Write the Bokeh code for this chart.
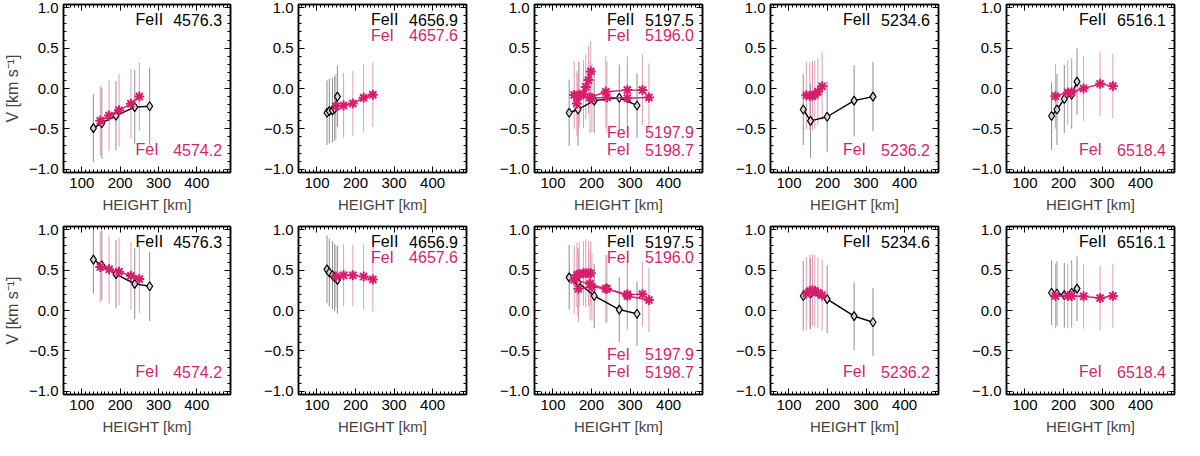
from bokeh.plotting import figure
from bokeh.layouts import gridplot
from bokeh.models import (Range1d, LinearAxis, SingleIntervalTicker, ColumnDataSource,
                          Label, CustomJSTickFormatter)
from bokeh.embed import file_html
from bokeh.resources import INLINE

PINK = "#d61f6c"
FONT = "Liberation Sans"

# ---- data (height in km, velocity in km/s, error) ----
# panel 1: FeII 4576.3 / FeI 4574.2
p1_fe2_h = [130, 152, 189, 238, 277]
p1_fe2_v_top = [-0.49, -0.43, -0.335, -0.23, -0.22]
p1_fe2_e_top = [0.42, 0.44, 0.43, 0.46, 0.48]
p1_fe2_v_bot = [0.63, 0.56, 0.45, 0.33, 0.30]
p1_fe2_e_bot = [0.42, 0.43, 0.42, 0.44, 0.43]
p1_fe1_h = [148, 171, 197, 228, 250]
p1_fe1_v_top = [-0.40, -0.335, -0.27, -0.19, -0.10]
p1_fe1_e_top = [0.43, 0.44, 0.45, 0.43, 0.42]
p1_fe1_v_bot = [0.54, 0.51, 0.48, 0.43, 0.39]
p1_fe1_e_bot = [0.44, 0.42, 0.42, 0.42, 0.42]

# panel 2: FeII 4656.9 / FeI 4657.6
p2_fe2_h = [126, 132, 140, 146, 153]
p2_fe2_v_top = [-0.30, -0.28, -0.27, -0.25, -0.10]
p2_fe2_e_top = [0.40, 0.40, 0.40, 0.40, 0.38]
p2_fe2_v_bot = [0.51, 0.47, 0.44, 0.41, 0.38]
p2_fe2_e_bot = [0.42, 0.42, 0.42, 0.42, 0.42]
p2_fe1_h = [149, 169, 193, 221, 245]
p2_fe1_v_top = [-0.22, -0.21, -0.185, -0.115, -0.077]
p2_fe1_e_top = [0.40, 0.40, 0.40, 0.42, 0.40]
p2_fe1_v_bot = [0.42, 0.435, 0.435, 0.42, 0.385]
p2_fe1_e_bot = [0.38, 0.38, 0.38, 0.40, 0.40]

# panel 3: FeII 5197.5 / FeI 5196.0, 5197.9, 5198.7
p3_fe2_h = [142, 165, 207, 272, 318]
p3_fe2_v_top = [-0.30, -0.26, -0.15, -0.115, -0.21]
p3_fe2_e_top = [0.41, 0.45, 0.40, 0.41, 0.40]
p3_fe2_v_bot = [0.41, 0.35, 0.18, 0.01, -0.04]
p3_fe2_e_bot = [0.40, 0.42, 0.40, 0.40, 0.40]
p3_fe1a_h = [162, 168, 179, 185, 192, 198]
p3_fe1a_v_top = [-0.185, -0.077, -0.07, 0.02, 0.104, 0.21]
p3_fe1a_e_top = [0.40, 0.40, 0.42, 0.40, 0.42, 0.38]
p3_fe1a_v_bot = [0.44, 0.45, 0.46, 0.46, 0.46, 0.46]
p3_fe1a_e_bot = [0.40, 0.40, 0.40, 0.42, 0.40, 0.40]
p3_fe1b_h = [155, 196, 237, 293, 332]
p3_fe1b_v_top = [-0.08, -0.11, -0.04, -0.02, -0.02]
p3_fe1b_e_top = [0.42, 0.44, 0.44, 0.42, 0.44]
p3_fe1b_v_bot = [0.38, 0.33, 0.27, 0.20, 0.20]
p3_fe1b_e_bot = [0.42, 0.44, 0.42, 0.42, 0.40]
p3_fe1c_h = [166, 201, 240, 293, 349]
p3_fe1c_v_top = [-0.10, -0.12, -0.11, -0.12, -0.11]
p3_fe1c_e_top = [0.44, 0.42, 0.44, 0.42, 0.42]
p3_fe1c_v_bot = [0.27, 0.29, 0.27, 0.18, 0.13]
p3_fe1c_e_bot = [0.42, 0.42, 0.42, 0.42, 0.40]

# panel 4: FeII 5234.6 / FeI 5236.2
p4_fe2_h = [137, 156, 199, 269, 318]
p4_fe2_v_top = [-0.26, -0.40, -0.35, -0.15, -0.10]
p4_fe2_e_top = [0.44, 0.46, 0.44, 0.44, 0.43]
p4_fe2_v_bot = [0.18, 0.21, 0.14, -0.07, -0.145]
p4_fe2_e_bot = [0.43, 0.44, 0.42, 0.42, 0.42]
p4_fe1_h = [145, 154, 161, 167, 175, 186]
p4_fe1_v_top = [-0.085, -0.09, -0.09, -0.077, -0.04, 0.027]
p4_fe1_e_top = [0.42, 0.42, 0.43, 0.42, 0.42, 0.42]
p4_fe1_v_bot = [0.21, 0.24, 0.25, 0.24, 0.22, 0.19]
p4_fe1_e_bot = [0.45, 0.45, 0.44, 0.45, 0.44, 0.44]

# panel 5: FeII 6516.1 / FeI 6518.4
p5_fe2_h = [169, 183, 202, 221, 235]
p5_fe2_v_top = [-0.34, -0.26, -0.13, -0.077, 0.085]
p5_fe2_e_top = [0.42, 0.44, 0.42, 0.42, 0.41]
p5_fe2_v_bot = [0.22, 0.21, 0.19, 0.22, 0.27]
p5_fe2_e_bot = [0.40, 0.40, 0.40, 0.40, 0.40]
p5_fe1_h = [179, 211, 221, 252, 295, 328]
p5_fe1_v_top = [-0.096, -0.05, -0.046, 0.0, 0.058, 0.03]
p5_fe1_e_top = [0.40, 0.40, 0.42, 0.40, 0.40, 0.40]
p5_fe1_v_bot = [0.18, 0.18, 0.18, 0.175, 0.155, 0.18]
p5_fe1_e_bot = [0.40, 0.40, 0.40, 0.40, 0.40, 0.40]

fe2_names = ["4576.3", "4656.9", "5197.5", "5234.6", "6516.1"]
fe1_top_names = [[], ["4657.6"], ["5196.0"], [], []]
fe1_bot_names = [["4574.2"], [], ["5197.9", "5198.7"], ["5236.2"], ["6518.4"]]

panels_top = [
    ((p1_fe2_h, p1_fe2_v_top, p1_fe2_e_top), [(p1_fe1_h, p1_fe1_v_top, p1_fe1_e_top)]),
    ((p2_fe2_h, p2_fe2_v_top, p2_fe2_e_top), [(p2_fe1_h, p2_fe1_v_top, p2_fe1_e_top)]),
    ((p3_fe2_h, p3_fe2_v_top, p3_fe2_e_top), [(p3_fe1a_h, p3_fe1a_v_top, p3_fe1a_e_top),
                                              (p3_fe1b_h, p3_fe1b_v_top, p3_fe1b_e_top),
                                              (p3_fe1c_h, p3_fe1c_v_top, p3_fe1c_e_top)]),
    ((p4_fe2_h, p4_fe2_v_top, p4_fe2_e_top), [(p4_fe1_h, p4_fe1_v_top, p4_fe1_e_top)]),
    ((p5_fe2_h, p5_fe2_v_top, p5_fe2_e_top), [(p5_fe1_h, p5_fe1_v_top, p5_fe1_e_top)]),
]
panels_bot = [
    ((p1_fe2_h, p1_fe2_v_bot, p1_fe2_e_bot), [(p1_fe1_h, p1_fe1_v_bot, p1_fe1_e_bot)]),
    ((p2_fe2_h, p2_fe2_v_bot, p2_fe2_e_bot), [(p2_fe1_h, p2_fe1_v_bot, p2_fe1_e_bot)]),
    ((p3_fe2_h, p3_fe2_v_bot, p3_fe2_e_bot), [(p3_fe1a_h, p3_fe1a_v_bot, p3_fe1a_e_bot),
                                              (p3_fe1b_h, p3_fe1b_v_bot, p3_fe1b_e_bot),
                                              (p3_fe1c_h, p3_fe1c_v_bot, p3_fe1c_e_bot)]),
    ((p4_fe2_h, p4_fe2_v_bot, p4_fe2_e_bot), [(p4_fe1_h, p4_fe1_v_bot, p4_fe1_e_bot)]),
    ((p5_fe2_h, p5_fe2_v_bot, p5_fe2_e_bot), [(p5_fe1_h, p5_fe1_v_bot, p5_fe1_e_bot)]),
]

minus_fmt = "return tick.toFixed(1).replace('-', '\\u2212');"


def style_axis(ax, labels=True):
    ax.major_tick_in = 6
    ax.major_tick_out = 0
    ax.minor_tick_in = 3
    ax.minor_tick_out = 0
    ax.axis_line_color = "black"
    ax.axis_line_width = 1.5
    ax.major_tick_line_width = 1
    ax.minor_tick_line_width = 1
    if labels:
        ax.major_label_text_font = FONT
        ax.major_label_text_font_size = "15px"
        ax.major_label_text_color = "black"
        ax.major_label_standoff = 5
        ax.axis_label_text_font = FONT
        ax.axis_label_text_font_size = "15px"
        ax.axis_label_text_font_style = "normal"
        ax.axis_label_standoff = 5
    else:
        # mirror axis: ticks only, no labels drawn
        ax.major_label_text_color = None
        ax.major_label_text_font_size = "0px"
        ax.major_label_standoff = 0


def source(h, v, e):
    return ColumnDataSource(dict(h=h, v=v,
                                 lo=[a - b for a, b in zip(v, e)],
                                 hi=[a + b for a, b in zip(v, e)]))


def panel(col, black, pinks, top_row):
    height = 218 if top_row else 222
    p = figure(width=236, height=height, x_range=Range1d(52, 488), y_range=Range1d(-1.04, 1.04),
               output_backend="svg", toolbar_location=None,
               min_border_left=62, min_border_right=6,
               min_border_top=4 if top_row else 8, min_border_bottom=46)
    p.grid.visible = False
    p.outline_line_color = "black"
    p.outline_line_width = 1.5
    p.background_fill_color = "white"

    p.xaxis.ticker = SingleIntervalTicker(interval=100, num_minor_ticks=10)
    p.yaxis.ticker = SingleIntervalTicker(interval=0.5, num_minor_ticks=5)
    p.yaxis.formatter = CustomJSTickFormatter(code=minus_fmt)
    style_axis(p.xaxis[0])
    style_axis(p.yaxis[0])
    p.xaxis.axis_label = "HEIGHT [km]"
    if col == 0:
        p.yaxis.axis_label = "V [km s\u207b\u00b9]"
        p.yaxis.axis_label_text_font_size = "16px"
    top = LinearAxis(ticker=SingleIntervalTicker(interval=100, num_minor_ticks=10))
    right = LinearAxis(ticker=SingleIntervalTicker(interval=0.5, num_minor_ticks=5))
    style_axis(top, labels=False)
    style_axis(right, labels=False)
    p.add_layout(top, "above")
    p.add_layout(right, "right")

    # error bars
    bsrc = source(*black)
    p.segment(x0="h", y0="lo", x1="h", y1="hi", source=bsrc, line_color="#8c8c8c", line_width=1)
    psrcs = [source(*s) for s in pinks]
    for s in psrcs:
        p.segment(x0="h", y0="lo", x1="h", y1="hi", source=s, line_color="#e29ab8", line_width=1)

    # FeII series
    p.line("h", "v", source=bsrc, line_color="black", line_width=1.4)
    p.scatter("h", "v", source=bsrc, marker="diamond", size=9, fill_color="#d4d4d4",
              line_color="black", line_width=1.2)
    # FeI series
    for s in psrcs:
        p.line("h", "v", source=s, line_color=PINK, line_width=1.4)
        p.scatter("h", "v", source=s, marker="asterisk", size=10, line_color=PINK, line_width=2)

    # line identifications
    def ident(y, name, wl, color):
        p.add_layout(Label(x=240, y=y, text=name, text_align="left", text_baseline="middle",
                           text_font=FONT, text_font_size="16px", text_color=color))
        p.add_layout(Label(x=466, y=y, text=wl, text_align="right", text_baseline="middle",
                           text_font=FONT, text_font_size="16px", text_color=color))

    ident(0.85, "FeII", fe2_names[col], "black")
    for i, wl in enumerate(fe1_top_names[col]):
        ident(0.66 - 0.19 * i, "FeI", wl, PINK)
    bots = fe1_bot_names[col]
    for i, wl in enumerate(bots):
        ident(-0.76 + 0.22 * (len(bots) - 1 - i), "FeI", wl, PINK)
    return p


row_top = [panel(c, b, pk, True) for c, (b, pk) in enumerate(panels_top)]
row_bot = [panel(c, b, pk, False) for c, (b, pk) in enumerate(panels_bot)]

grid = gridplot([row_top, row_bot], toolbar_location=None)
open("out.html", "w").write(file_html(grid, INLINE))
